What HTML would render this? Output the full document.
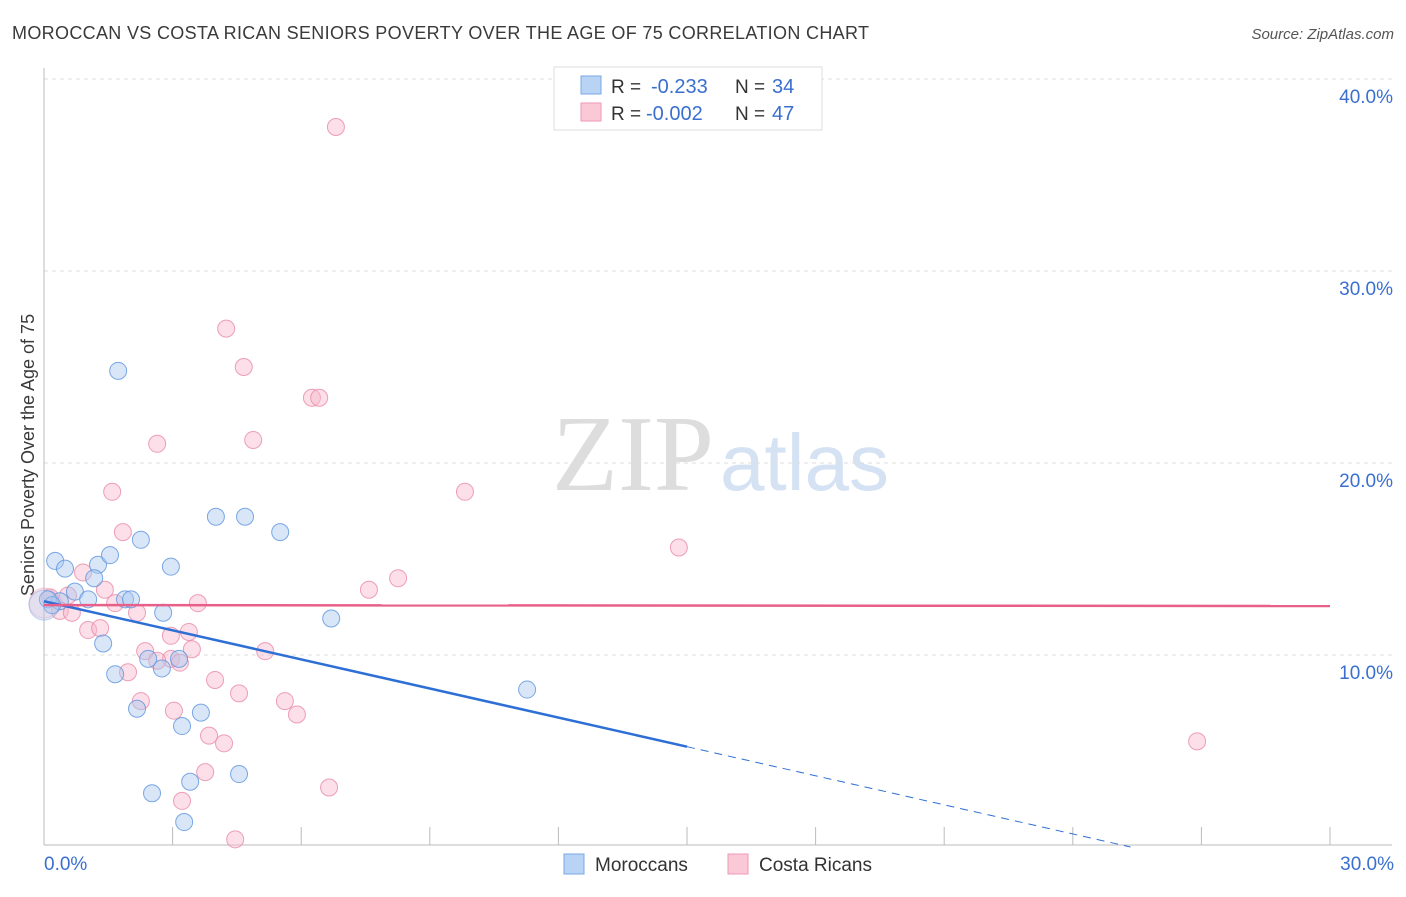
<!DOCTYPE html>
<html><head><meta charset="utf-8"><style>
body{margin:0;background:#fff;font-family:"Liberation Sans",sans-serif}
</style></head><body>
<svg id="c" width="1406" height="892" xmlns="http://www.w3.org/2000/svg" style="font-family:'Liberation Sans',sans-serif">
<text x="12" y="39" font-size="18" fill="#3a3a3a" textLength="857">MOROCCAN VS COSTA RICAN SENIORS POVERTY OVER THE AGE OF 75 CORRELATION CHART</text>
<text x="1394" y="39" font-size="15" fill="#555" text-anchor="end" font-style="italic">Source: ZipAtlas.com</text>
<text x="714" y="490" font-size="108" fill="#ddd" text-anchor="end" font-family="Liberation Serif">ZIP</text>
<text x="720" y="490" font-size="80" fill="#d4e2f4">atlas</text>
<text transform="translate(34,455) rotate(-90)" font-size="18" fill="#3a3a3a" text-anchor="middle">Seniors Poverty Over the Age of 75</text>
<g id="grid"></g><g id="marks"></g>
<g>
<rect x="554" y="67" width="268" height="63" fill="#fff" stroke="#ddd"/>
<rect x="581" y="76" width="20" height="18" fill="#b8d3f4" stroke="#7aa8e6"/>
<rect x="581" y="103" width="20" height="18" fill="#fbc8d8" stroke="#ee9ab5"/>
<text x="611" y="93" font-size="19" fill="#333">R =</text>
<text x="651" y="93" font-size="20" fill="#3a6fd0">-0.233</text>
<text x="735" y="93" font-size="19" fill="#333">N =</text>
<text x="772" y="93" font-size="20" fill="#3a6fd0">34</text>
<text x="611" y="120" font-size="19" fill="#333">R =</text>
<text x="646" y="120" font-size="20" fill="#3a6fd0">-0.002</text>
<text x="735" y="120" font-size="19" fill="#333">N =</text>
<text x="772" y="120" font-size="20" fill="#3a6fd0">47</text>
</g>
<g>
<rect x="564" y="854" width="20" height="20" fill="#b8d3f4" stroke="#7aa8e6"/>
<text x="595" y="871" font-size="19" fill="#333">Moroccans</text>
<rect x="728" y="854" width="20" height="20" fill="#fbc8d8" stroke="#ee9ab5"/>
<text x="759" y="871" font-size="19" fill="#333">Costa Ricans</text>
</g>
</svg>
<script>
const yTicks=[10,20,30,40];
const xTickLabels=["0.0%","30.0%"];
const blueX=[1.73,0.26,0.49,1.26,1.54,2.26,1.17,0.72,1.03,0.37,0.09,0.19,1.89,2.03,2.96,2.78,1.38,1.66,2.43,2.75,3.15,2.17,3.66,3.22,4.01,4.69,5.51,6.70,11.27,4.55,3.41,2.52,3.27,0.0];
const blueY=[24.8,14.9,14.5,14.7,15.2,16.0,14.0,13.3,12.9,12.8,12.9,12.6,12.9,12.9,14.6,12.2,10.6,9.0,9.8,9.3,9.8,7.2,7.0,6.3,17.2,17.2,16.4,11.9,8.2,3.8,3.4,2.8,1.3,12.6];
const pinkX=[6.81,4.25,4.66,6.25,6.42,2.64,4.88,1.59,9.82,1.84,14.81,0.91,1.42,8.26,7.58,0.14,0.56,0.37,0.65,1.66,2.17,3.59,1.03,1.31,2.96,3.38,2.36,3.45,5.16,2.96,1.96,2.64,3.99,4.55,5.62,5.90,2.26,3.03,3.85,4.20,3.76,3.22,6.65,4.46,26.90,0.0,3.17];
const pinkY=[37.5,27.0,25.0,23.4,23.4,21.0,21.2,18.5,18.5,16.4,15.6,14.3,13.4,14.0,13.4,13.0,13.1,12.3,12.2,12.7,12.2,12.7,11.3,11.4,11.0,11.2,10.2,10.3,10.2,9.8,9.1,9.7,8.7,8.0,7.6,6.9,7.6,7.1,5.8,5.4,3.9,2.4,3.1,0.4,5.5,12.7,9.6];
const blueTrend=[12.8,-2.35];const pinkTrend=[12.6,12.55];
const X=v=>44+v/30*1286, Y=v=>847-v*19.2;
const NS="http://www.w3.org/2000/svg";
function mk(t,a,p){const e=document.createElementNS(NS,t);for(const k in a)e.setAttribute(k,a[k]);p.appendChild(e);return e;}
const g=document.getElementById('grid'),m=document.getElementById('marks');
yTicks.forEach(t=>{const l=mk('line',{x1:44,x2:1392,y1:Y(t),y2:Y(t),stroke:'#ddd','stroke-dasharray':'4,4'},g);


const tx=mk('text',{x:1393,y:Y(t)+24,'font-size':19,fill:'#3a6fd0','text-anchor':'end'},g);tx.textContent=t.toFixed(1)+'%';

});
const ax=mk('line',{x1:44,x2:1392,y1:845,y2:845,stroke:'#bbb'},g);


const ay=mk('line',{x1:44,x2:44,y1:68,y2:845,stroke:'#bbb'},g);


for(let i=1;i<=10;i++){const t=mk('line',{x1:X(i*3),x2:X(i*3),y1:827,y2:845,stroke:'#bbb'},g);

}
[[0,'start',44],[1,'end',1394]].forEach(([i,a,x])=>{const t=mk('text',{x:x,y:870,'font-size':19,fill:'#3a6fd0','text-anchor':a},g);t.textContent=xTickLabels[i];

});
function pts(xs,ys,f,s,n){xs.forEach((x,i)=>{const big=(x===0);const c=mk('circle',{cx:X(x),cy:Y(ys[i]),r:big?15:8.5,fill:f,'fill-opacity':big?0.3:0.45,stroke:s,'stroke-opacity':big?0.4:0.8},m);

});}
pts(pinkX,pinkY,'#f8b8cc','#e889a8','costa-rican-point');
pts(blueX,blueY,'#a9c8f0','#5d94de','moroccan-point');
const bx=15,by=blueTrend[0]+(blueTrend[1]-blueTrend[0])*bx/30;
const b1=mk('line',{x1:X(0),y1:Y(blueTrend[0]),x2:X(bx),y2:Y(by),stroke:'#2e6fd6','stroke-width':2.5},m);


const ex=30*blueTrend[0]/(blueTrend[0]-blueTrend[1]);
const b2=mk('line',{x1:X(bx),y1:Y(by),x2:X(ex),y2:Y(0),stroke:'#2e6fd6','stroke-width':1,'stroke-dasharray':'8,6'},m);


const p1=mk('line',{x1:X(0),y1:Y(pinkTrend[0]),x2:X(30),y2:Y(pinkTrend[1]),stroke:'#e8608a','stroke-width':2.5},m);


</script>
</body></html>
